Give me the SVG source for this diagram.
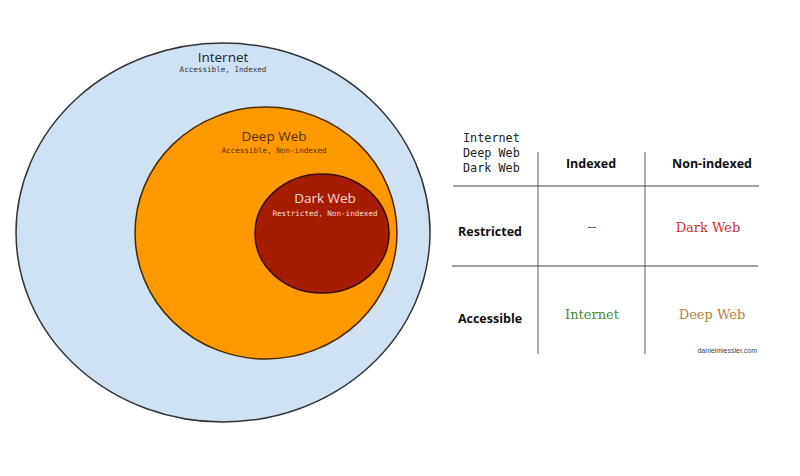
<svg xmlns="http://www.w3.org/2000/svg" width="800" height="476" viewBox="0 0 800 476">
<style>
.title{font-family:"Open Sans","Noto Sans",sans-serif;font-size:13.5px;text-anchor:middle}
.sub{font-family:"DejaVu Sans Mono","Liberation Mono",monospace;font-size:7.6px;text-anchor:middle}
.mono{font-family:"DejaVu Sans Mono","Liberation Mono",monospace;font-size:11.8px;fill:#222}
.hdr{font-family:"Open Sans","Noto Sans",sans-serif;font-size:12.5px;font-weight:bold;text-anchor:middle;fill:#111}
.cell{font-family:"DejaVu Serif","Liberation Serif",serif;font-size:13px;text-anchor:middle}
.vl{stroke:#777;stroke-width:1.2}
.hl{stroke:#444;stroke-width:1.2}
</style>
<rect width="800" height="476" fill="#ffffff"/>
<g id="internet">
<ellipse cx="223" cy="232.5" rx="207" ry="189.5" fill="#cfe2f3" stroke="#333" stroke-width="1.5"/>
<text class="title" x="223" y="62" fill="#222">Internet</text>
<text class="sub" x="223" y="72" fill="#333">Accessible, Indexed</text>
</g>
<g id="deepweb">
<ellipse cx="266" cy="233" rx="131" ry="126" fill="#ff9900" stroke="#4a2a00" stroke-width="1.5"/>
<text class="title" x="274" y="141" fill="#5a2e00">Deep Web</text>
<text class="sub" x="274" y="153" fill="#5a2e00">Accessible, Non-indexed</text>
</g>
<g id="darkweb">
<ellipse cx="322" cy="233.5" rx="67" ry="59.5" fill="#a61c00" stroke="#3a0a00" stroke-width="1.5"/>
<text class="title" x="325" y="203" fill="#f6dcd6">Dark Web</text>
<text class="sub" x="325" y="216" fill="#f6dcd6">Restricted, Non-indexed</text>
</g>
<g id="table-lines">
<line class="vl" x1="538" y1="152" x2="538" y2="354"/>
<line class="vl" x1="645" y1="152" x2="645" y2="354"/>
<line class="hl" x1="453" y1="186" x2="759" y2="186"/>
<line class="hl" x1="452" y1="266" x2="758" y2="266"/>
</g>
<g id="legend">
<text class="mono" x="463" y="142">Internet</text>
<text class="mono" x="463" y="157">Deep Web</text>
<text class="mono" x="463" y="172">Dark Web</text>
</g>
<g id="headers">
<text class="hdr" x="591" y="168">Indexed</text>
<text class="hdr" x="712" y="168">Non-indexed</text>
<text class="hdr" x="490" y="236">Restricted</text>
<text class="hdr" x="490" y="323">Accessible</text>
</g>
<g id="cells">
<text class="cell" x="592" y="231" fill="#444">--</text>
<text class="cell" x="708" y="232" fill="#cc3333">Dark Web</text>
<text class="cell" x="592" y="319" fill="#4a8a3a">Internet</text>
<text class="cell" x="712" y="319" fill="#b7803a">Deep Web</text>
<text x="757" y="353" font-family="Liberation Sans,Arial,sans-serif" font-size="7px" text-anchor="end" fill="#444">danielmiessler.com</text>
</g>
</svg>
